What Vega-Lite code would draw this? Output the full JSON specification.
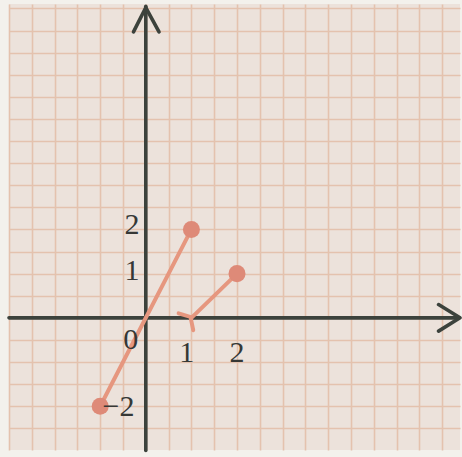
{
  "$schema": "https://vega.github.io/schema/vega-lite/v6.json",
  "width": 462,
  "height": 457,
  "autosize": {"type": "fit", "contains": "padding"},
  "padding": {"left": 7, "top": 4, "right": 0, "bottom": 4},
  "background": "#f3f1ec",
  "config": {
    "view": {"fill": "#ece2db", "stroke": null},
    "axis": {"domain": false, "labels": false, "ticks": false, "title": null, "gridColor": "#e4c2ae", "gridWidth": 1.6, "gridOpacity": 1}
  },
  "datasets": {
    "axes": [
      {"seg": "xaxis", "o": 0, "x": -3.0, "y": 0},
      {"seg": "xaxis", "o": 1, "x": 6.87, "y": 0},
      {"seg": "yaxis", "o": 0, "x": 0, "y": -3.0},
      {"seg": "yaxis", "o": 1, "x": 0, "y": 7.05},
      {"seg": "xarrow", "o": 0, "x": 6.42, "y": 0.3},
      {"seg": "xarrow", "o": 1, "x": 6.89, "y": 0},
      {"seg": "xarrow", "o": 2, "x": 6.42, "y": -0.3},
      {"seg": "yarrow", "o": 0, "x": -0.27, "y": 6.47},
      {"seg": "yarrow", "o": 1, "x": 0, "y": 7.02},
      {"seg": "yarrow", "o": 2, "x": 0.29, "y": 6.47}
    ],
    "graph": [
      {"seg": "a", "o": 0, "x": -1, "y": -2},
      {"seg": "a", "o": 1, "x": 1, "y": 2},
      {"seg": "b", "o": 0, "x": 1, "y": 0},
      {"seg": "b", "o": 1, "x": 2, "y": 1},
      {"seg": "hole", "o": 0, "x": 0.72, "y": 0.1},
      {"seg": "hole", "o": 1, "x": 0.98, "y": 0.02},
      {"seg": "hole", "o": 2, "x": 1.04, "y": -0.28}
    ],
    "dots": [
      {"x": -1, "y": -2},
      {"x": 1, "y": 2},
      {"x": 2, "y": 1}
    ],
    "labels": [
      {"t": "2", "x": -0.3, "y": 2.1},
      {"t": "1", "x": -0.3, "y": 1.06},
      {"t": "0", "x": -0.33, "y": -0.5},
      {"t": "1", "x": 0.9, "y": -0.8},
      {"t": "2", "x": 2.0, "y": -0.8},
      {"t": "−2", "x": -0.6, "y": -2.02}
    ]
  },
  "encoding": {
    "x": {"field": "x", "type": "quantitative", "scale": {"domain": [-3.0, 6.89], "nice": false, "zero": false},
      "axis": {"grid": true, "values": [-3,-2.5,-2,-1.5,-1,-0.5,0,0.5,1,1.5,2,2.5,3,3.5,4,4.5,5,5.5,6,6.5]}},
    "y": {"field": "y", "type": "quantitative", "scale": {"domain": [-2.99, 7.1], "nice": false, "zero": false},
      "axis": {"grid": true, "values": [-2.5,-2,-1.5,-1,-0.5,0,0.5,1,1.5,2,2.5,3,3.5,4,4.5,5,5.5,6,6.5,7]}}
  },
  "layer": [
    {
      "data": {"name": "axes"},
      "mark": {"type": "line", "color": "#3c423c", "strokeWidth": 3.6, "strokeCap": "round", "strokeJoin": "round"},
      "encoding": {"detail": {"field": "seg"}, "order": {"field": "o"}}
    },
    {
      "data": {"name": "graph"},
      "mark": {"type": "line", "color": "#e6977f", "strokeWidth": 4, "strokeCap": "round"},
      "encoding": {"detail": {"field": "seg"}, "order": {"field": "o"}}
    },
    {
      "data": {"name": "dots"},
      "mark": {"type": "circle", "color": "#de8a78", "opacity": 1, "size": 290}
    },
    {
      "data": {"name": "labels"},
      "mark": {"type": "text", "font": "Liberation Serif", "fontSize": 30, "color": "#363836", "align": "center", "baseline": "middle"},
      "encoding": {"text": {"field": "t"}}
    }
  ]
}
